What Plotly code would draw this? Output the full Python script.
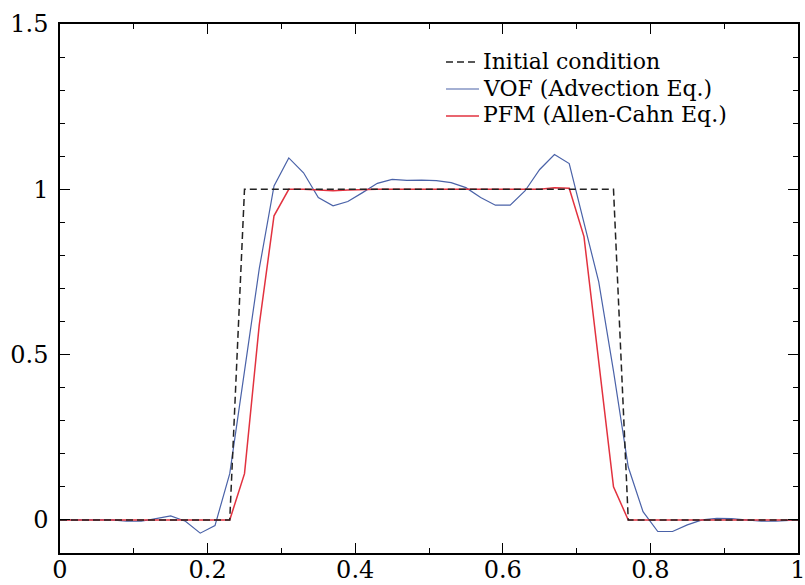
import plotly.graph_objects as go

# ---- data ----
x_cells = [0.00, 0.01, 0.03, 0.05, 0.07, 0.09, 0.11, 0.13, 0.15, 0.17, 0.19,
           0.21, 0.23, 0.25, 0.27, 0.29, 0.31, 0.33, 0.35, 0.37, 0.39,
           0.41, 0.43, 0.45, 0.47, 0.49, 0.51, 0.53, 0.55, 0.57, 0.59,
           0.61, 0.63, 0.65, 0.67, 0.69, 0.71, 0.73, 0.75, 0.77, 0.79,
           0.81, 0.83, 0.85, 0.87, 0.89, 0.91, 0.93, 0.95, 0.97, 0.99, 1.00]

vof = [0.0, 0.0, 0.0, 0.0, 0.0, -0.004, -0.004, 0.004, 0.012, -0.004, -0.040,
       -0.017, 0.14, 0.45, 0.76, 1.01, 1.095, 1.05, 0.975, 0.95, 0.963,
       0.99, 1.018, 1.03, 1.027, 1.028, 1.026, 1.02, 1.005, 0.975, 0.952,
       0.952, 0.995, 1.06, 1.105, 1.078, 0.90, 0.72, 0.45, 0.16, 0.025,
       -0.035, -0.035, -0.015, 0.0, 0.005, 0.004, 0.0, -0.004, -0.004, 0.0, 0.0]

pfm = [0.0, 0.0, 0.0, 0.0, 0.0, 0.0, 0.0, 0.0, 0.0, 0.0, 0.0,
       0.0, 0.0, 0.14, 0.59, 0.92, 1.0, 1.0, 0.998, 0.996, 0.998,
       1.0, 1.0, 1.0, 1.0, 1.0, 1.0, 1.0, 1.0, 1.0, 1.0,
       1.0, 0.998, 1.0, 1.005, 1.003, 0.857, 0.47, 0.10, 0.0, 0.0,
       0.0, 0.0, 0.0, 0.0, 0.0, 0.0, 0.0, 0.0, 0.0, 0.0, 0.0]

x_init = [0.0, 0.23, 0.25, 0.75, 0.77, 1.0]
y_init = [0.0, 0.0, 1.0, 1.0, 0.0, 0.0]

x_ticks = [0, 0.2, 0.4, 0.6, 0.8, 1]
y_ticks = [0, 0.5, 1, 1.5]

legend_names = ["Initial condition", "VOF (Advection Eq.)", "PFM (Allen-Cahn Eq.)"]

FONT = "DejaVu Serif"
C_VOF = "#4a62a8"
C_PFM = "#e2323f"
C_INI = "#222222"
DASH = "7px,4px"

fig = go.Figure()
fig.add_trace(go.Scatter(x=x_cells, y=vof, mode="lines", name=legend_names[1],
                         line=dict(color=C_VOF, width=1.2), showlegend=False))
fig.add_trace(go.Scatter(x=x_cells, y=pfm, mode="lines", name=legend_names[2],
                         line=dict(color=C_PFM, width=1.5), showlegend=False))
fig.add_trace(go.Scatter(x=x_init, y=y_init, mode="lines", name=legend_names[0],
                         line=dict(color=C_INI, width=1.5, dash=DASH), showlegend=False))

axis_common = dict(
    showgrid=False, zeroline=False, showline=True, linecolor="black", linewidth=1.5,
    mirror="allticks", ticks="inside", ticklen=10, tickwidth=1.2, tickcolor="black",
    tickfont=dict(family=FONT, size=24, color="black"), automargin=False,
    ticklabeloverflow="allow",
)

fig.update_xaxes(range=[0, 1], tickvals=x_ticks, ticktext=[str(v) for v in x_ticks],
                 minor=dict(dtick=0.1, tick0=0, ticks="inside", ticklen=5, tickcolor="black", tickwidth=1),
                 ticklabelstandoff=-6, **axis_common)
fig.update_yaxes(range=[-0.1, 1.5], tickvals=y_ticks, ticktext=[str(v) for v in y_ticks],
                 minor=dict(dtick=0.1, tick0=0, ticks="inside", ticklen=5, tickcolor="black", tickwidth=1),
                 ticklabelstandoff=5, **axis_common)

# manual legend (tight line spacing like the reference)
PLOT_L, PLOT_W, PLOT_B, PLOT_H = 60, 738, 553, 529
def px2paper(px, py):
    return (px - PLOT_L) / PLOT_W, (PLOT_B - py) / PLOT_H

legend_rows_py = [61, 88, 115]
legend_styles = [dict(color=C_INI, width=1.5, dash=DASH),
                 dict(color=C_VOF, width=1.2),
                 dict(color=C_PFM, width=1.5)]
for name, py, st in zip(legend_names, legend_rows_py, legend_styles):
    x0, y0 = px2paper(446, py + 1)
    x1, _ = px2paper(479, py + 1)
    fig.add_shape(type="line", xref="paper", yref="paper", x0=x0, x1=x1, y0=y0, y1=y0, line=st)
    tx, ty = px2paper(482, py)
    fig.add_annotation(xref="paper", yref="paper", x=tx, y=ty, text=name, showarrow=False,
                       xanchor="left", yanchor="middle", borderpad=0,
                       font=dict(family=FONT, size=22, color="black"))

fig.update_layout(
    width=805, height=585,
    margin=dict(l=60, r=7, t=24, b=32),
    paper_bgcolor="white", plot_bgcolor="white",
    showlegend=False,
)

fig.write_html("out.html")
